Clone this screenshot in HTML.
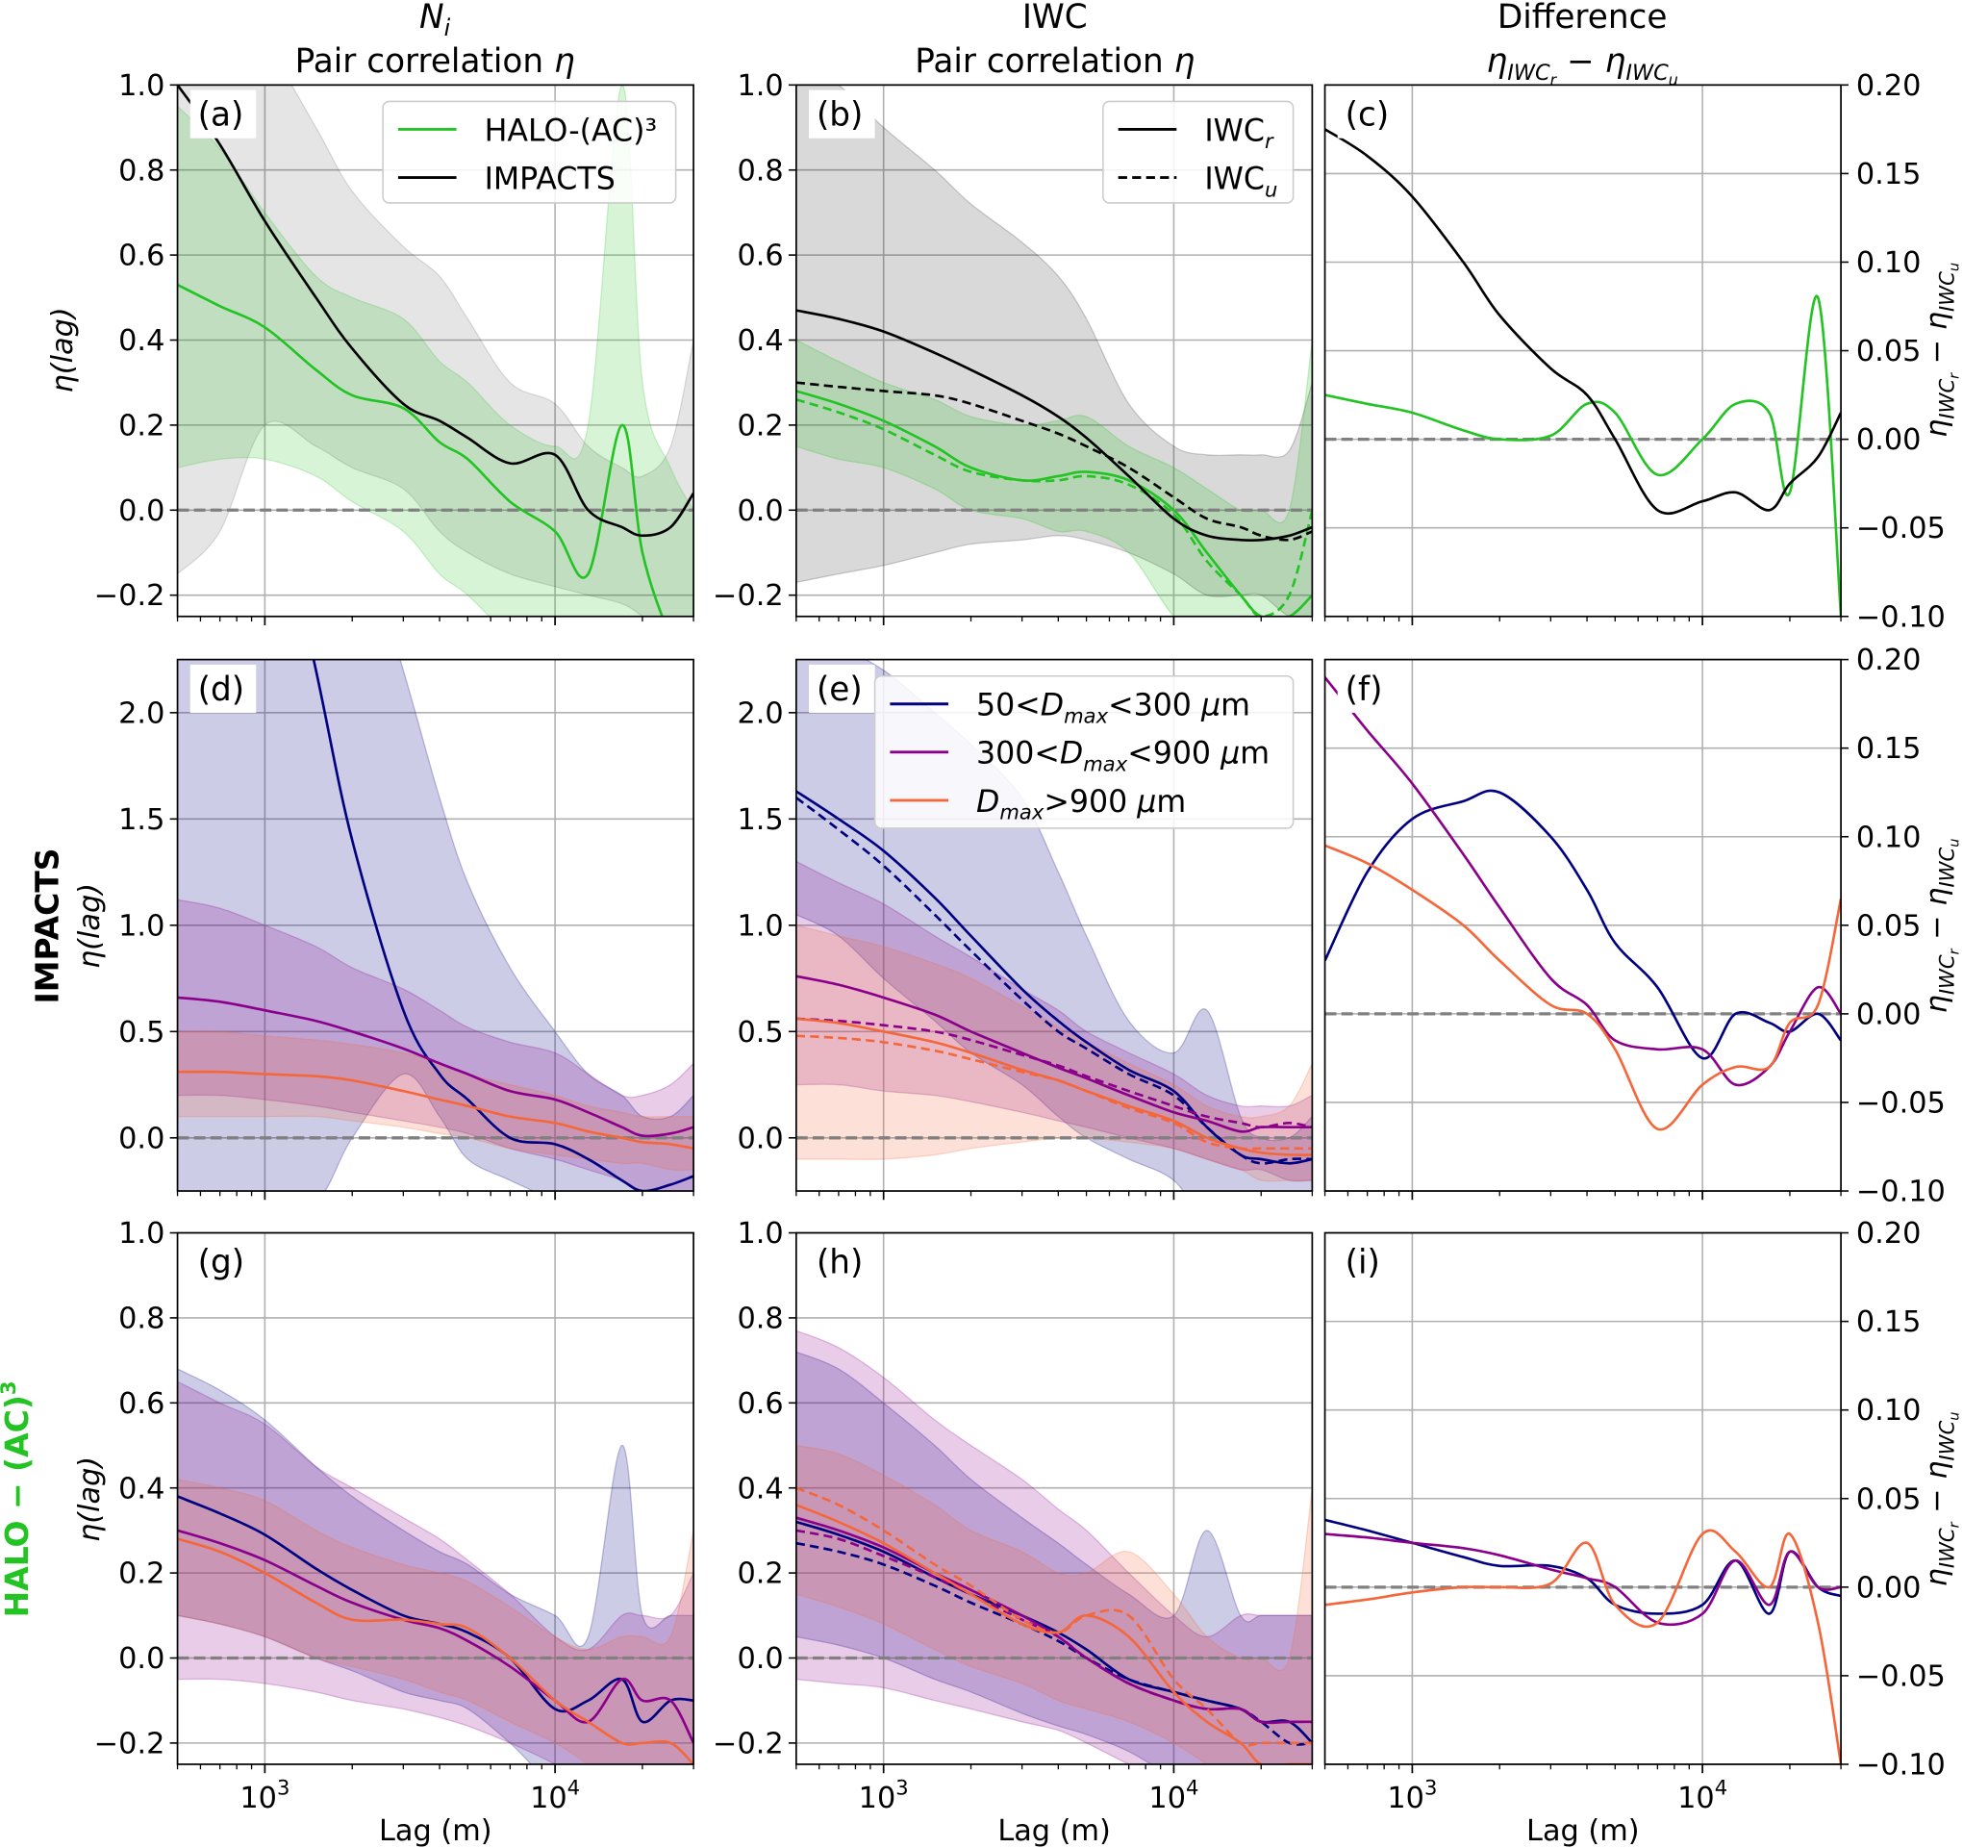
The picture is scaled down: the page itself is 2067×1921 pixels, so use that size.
<!DOCTYPE html>
<html><head><meta charset="utf-8"><style>
html,body{margin:0;padding:0;background:#fff;}
svg{display:block;font-family:"DejaVu Sans","Liberation Sans",sans-serif;}
</style></head><body>
<svg id="fig" width="2067" height="1921" viewBox="0 0 1568 1457" preserveAspectRatio="none" xmlns="http://www.w3.org/2000/svg">
<rect width="1568" height="1457" fill="#fff"/>
<g font-size="26" text-anchor="middle">
<text x="343" y="22" font-style="italic">N<tspan font-size="18" dy="6">i</tspan></text>
<text x="343" y="57">Pair correlation <tspan font-style="italic">η</tspan></text>
<text x="832" y="22">IWC</text>
<text x="832" y="57">Pair correlation <tspan font-style="italic">η</tspan></text>
<text x="1248" y="22">Difference</text>
<text x="1248" y="57" font-style="italic">η<tspan font-size="17" dy="6">IWC</tspan><tspan font-size="12" dy="4">r</tspan><tspan dy="-10"> − η</tspan><tspan font-size="17" dy="6">IWC</tspan><tspan font-size="12" dy="4">u</tspan></text>
</g>
<g id="plots"></g>
</svg>
<script>
const L = [500,700,1000,1500,2000,3000,4000,5000,7000,10000,13000,17000,20000,25000,30000];
// panel a
const aImpacts = [1.0,0.86,0.68,0.50,0.38,0.25,0.21,0.17,0.11,0.13,0.0,-0.04,-0.06,-0.04,0.04];
const aHalo = [0.53,0.48,0.43,0.33,0.27,0.24,0.16,0.12,0.02,-0.05,-0.15,0.2,-0.1,-0.3,-0.4];
const aImpUp = [1.3,1.2,1.1,0.9,0.75,0.62,0.55,0.45,0.3,0.25,0.15,0.1,0.08,0.15,0.4];
const aImpLo = [-0.15,-0.05,0.2,0.15,0.1,0.05,-0.05,-0.1,-0.15,-0.18,-0.2,-0.22,-0.25,-0.3,-0.3];
const aHaloUp = [0.95,0.85,0.7,0.55,0.5,0.45,0.35,0.3,0.2,0.15,0.2,1.0,0.3,0.1,0.0];
const aHaloLo = [0.1,0.12,0.12,0.08,0.02,-0.05,-0.15,-0.2,-0.3,-0.4,-0.4,-0.4,-0.4,-0.4,-0.4];
// panel b
const bImpR = [0.47,0.45,0.42,0.37,0.33,0.27,0.22,0.17,0.08,-0.02,-0.06,-0.07,-0.07,-0.06,-0.04];
const bImpU = [0.30,0.29,0.28,0.27,0.25,0.21,0.18,0.15,0.1,0.03,-0.02,-0.04,-0.06,-0.07,-0.05];
const bHaloR = [0.28,0.25,0.21,0.15,0.1,0.07,0.08,0.09,0.07,0.0,-0.1,-0.2,-0.25,-0.25,-0.2];
const bHaloU = [0.26,0.23,0.19,0.13,0.09,0.07,0.07,0.08,0.06,-0.01,-0.12,-0.2,-0.25,-0.2,0.0];
const bImpUp = [1.05,1.0,0.9,0.8,0.72,0.63,0.55,0.45,0.25,0.15,0.13,0.13,0.13,0.14,0.3];
const bImpLo = [-0.17,-0.15,-0.13,-0.1,-0.08,-0.07,-0.06,-0.07,-0.1,-0.15,-0.2,-0.2,-0.2,-0.25,-0.25];
const bHaloUp = [0.4,0.35,0.3,0.26,0.22,0.2,0.21,0.22,0.15,0.1,0.05,0.0,0.0,0.0,0.4];
const bHaloLo = [0.15,0.12,0.1,0.05,0.0,-0.02,-0.05,-0.05,-0.1,-0.25,-0.3,-0.3,-0.3,-0.3,-0.3];
// panel c
const cImp = [0.175,0.16,0.137,0.10,0.07,0.04,0.025,0.0,-0.04,-0.035,-0.03,-0.04,-0.025,-0.01,0.015];
const cHalo = [0.025,0.02,0.015,0.005,0.0,0.002,0.02,0.015,-0.02,0.0,0.02,0.015,-0.03,0.08,-0.1];
// panel d
const dSmall = [6,4.5,3.3,2.2,1.4,0.6,0.3,0.18,0.0,-0.03,-0.1,-0.2,-0.25,-0.22,-0.18];
const dMid = [0.66,0.64,0.6,0.55,0.5,0.42,0.35,0.3,0.22,0.18,0.12,0.05,0.01,0.02,0.05];
const dLarge = [0.31,0.31,0.3,0.29,0.27,0.22,0.18,0.15,0.1,0.07,0.03,0.0,-0.02,-0.03,-0.05];
const dSmallUp = [4,4,4,3.5,3,2.2,1.6,1.2,0.8,0.5,0.3,0.2,0.1,0.1,0.2];
const dSmallLo = [-1,-0.5,-0.3,-0.3,0.0,0.3,0.1,-0.1,-0.2,-0.3,-0.4,-0.4,-0.4,-0.4,-0.4];
const dMidUp = [1.12,1.08,1.0,0.9,0.8,0.7,0.6,0.52,0.45,0.4,0.3,0.2,0.2,0.25,0.35];
const dMidLo = [0.2,0.2,0.18,0.15,0.12,0.08,0.05,0.02,-0.05,-0.1,-0.15,-0.2,-0.25,-0.25,-0.25];
const dLargeUp = [0.5,0.5,0.48,0.46,0.44,0.4,0.35,0.3,0.25,0.2,0.15,0.12,0.1,0.1,0.1];
const dLargeLo = [0.1,0.1,0.1,0.1,0.08,0.05,0.02,0.0,-0.05,-0.08,-0.1,-0.12,-0.12,-0.15,-0.15];
// panel e
const eSmallR = [1.63,1.5,1.35,1.13,0.95,0.7,0.55,0.45,0.32,0.22,0.05,-0.08,-0.1,-0.12,-0.1];
const eSmallU = [1.6,1.45,1.28,1.05,0.88,0.65,0.5,0.42,0.3,0.2,0.05,-0.08,-0.12,-0.1,-0.1];
const eMidR = [0.76,0.72,0.66,0.58,0.5,0.4,0.33,0.28,0.2,0.12,0.08,0.03,0.05,0.05,0.05];
const eMidU = [0.56,0.55,0.53,0.5,0.46,0.39,0.34,0.29,0.22,0.15,0.1,0.07,0.05,0.07,0.05];
const eLargeR = [0.56,0.54,0.5,0.45,0.4,0.32,0.27,0.22,0.15,0.08,0.0,-0.05,-0.07,-0.08,-0.08];
const eLargeU = [0.48,0.47,0.45,0.41,0.37,0.31,0.27,0.22,0.14,0.07,-0.02,-0.05,-0.05,-0.05,-0.05];
const eSmallUp = [2.3,2.3,2.2,2.0,1.85,1.6,1.25,0.95,0.55,0.4,0.6,0.1,0.0,0.0,0.1];
const eSmallLo = [1.05,0.95,0.75,0.55,0.4,0.25,0.1,0.0,-0.1,-0.2,-0.4,-0.4,-0.4,-0.4,-0.4];
const eMidUp = [1.3,1.2,1.1,0.95,0.85,0.7,0.6,0.5,0.4,0.3,0.2,0.15,0.15,0.15,0.2];
const eMidLo = [0.25,0.25,0.22,0.2,0.17,0.12,0.08,0.05,0.0,-0.05,-0.1,-0.15,-0.15,-0.2,-0.2];
const eLargeUp = [1.0,0.95,0.9,0.82,0.75,0.62,0.52,0.45,0.35,0.25,0.15,0.1,0.1,0.15,0.35];
const eLargeLo = [-0.1,-0.1,-0.1,-0.08,-0.05,-0.02,0.0,0.0,-0.02,-0.05,-0.1,-0.15,-0.2,-0.2,-0.2];
// panel f
const fSmall = [0.03,0.08,0.11,0.12,0.125,0.10,0.07,0.04,0.015,-0.025,0.0,-0.005,-0.01,0.0,-0.015];
const fMid = [0.19,0.16,0.13,0.09,0.06,0.02,0.005,-0.015,-0.02,-0.02,-0.04,-0.03,-0.01,0.015,0.0];
const fLarge = [0.095,0.085,0.07,0.05,0.03,0.005,0.0,-0.02,-0.065,-0.04,-0.03,-0.03,-0.005,0.005,0.065];
// panel g
const gSmall = [0.38,0.34,0.29,0.21,0.16,0.1,0.08,0.06,0.0,-0.12,-0.1,-0.05,-0.15,-0.1,-0.1];
const gMid = [0.30,0.27,0.23,0.17,0.13,0.09,0.07,0.04,-0.02,-0.1,-0.15,-0.05,-0.1,-0.1,-0.2];
const gLarge = [0.28,0.25,0.2,0.13,0.09,0.09,0.08,0.07,0.0,-0.1,-0.15,-0.2,-0.2,-0.2,-0.25];
const gSmallUp = [0.68,0.63,0.56,0.45,0.38,0.3,0.25,0.22,0.15,0.1,0.05,0.5,0.1,0.1,0.1];
const gSmallLo = [0.1,0.08,0.05,0.0,-0.03,-0.08,-0.1,-0.12,-0.2,-0.3,-0.3,-0.3,-0.3,-0.3,-0.3];
const gMidUp = [0.65,0.6,0.55,0.45,0.4,0.33,0.28,0.23,0.15,0.05,0.02,0.1,0.1,0.1,0.2];
const gMidLo = [-0.05,-0.05,-0.06,-0.08,-0.1,-0.12,-0.14,-0.16,-0.2,-0.25,-0.3,-0.3,-0.3,-0.3,-0.3];
const gLargeUp = [0.42,0.4,0.37,0.3,0.26,0.22,0.2,0.18,0.12,0.05,0.02,0.05,0.05,0.05,0.3];
const gLargeLo = [0.1,0.08,0.05,0.0,-0.02,-0.05,-0.08,-0.1,-0.15,-0.2,-0.25,-0.3,-0.3,-0.3,-0.3];
// panel h
const hSmallR = [0.32,0.29,0.25,0.19,0.15,0.1,0.06,0.02,-0.05,-0.08,-0.1,-0.12,-0.15,-0.15,-0.2];
const hSmallU = [0.27,0.25,0.22,0.17,0.13,0.08,0.04,0.0,-0.05,-0.08,-0.1,-0.12,-0.15,-0.2,-0.2];
const hMidR = [0.33,0.3,0.26,0.2,0.16,0.1,0.05,0.0,-0.06,-0.1,-0.12,-0.12,-0.15,-0.15,-0.15];
const hMidU = [0.3,0.28,0.24,0.19,0.15,0.09,0.05,0.0,-0.06,-0.1,-0.12,-0.12,-0.15,-0.15,-0.15];
const hLargeR = [0.36,0.32,0.27,0.2,0.15,0.08,0.06,0.1,0.05,-0.08,-0.15,-0.2,-0.25,-0.25,-0.25];
const hLargeU = [0.4,0.36,0.3,0.22,0.17,0.09,0.06,0.1,0.1,-0.05,-0.12,-0.2,-0.2,-0.2,-0.2];
const hSmallUp = [0.72,0.68,0.6,0.5,0.42,0.33,0.27,0.22,0.15,0.1,0.3,0.1,0.1,0.1,0.1];
const hSmallLo = [0.05,0.03,0.0,-0.05,-0.08,-0.13,-0.16,-0.18,-0.22,-0.28,-0.3,-0.3,-0.3,-0.3,-0.3];
const hMidUp = [0.77,0.73,0.66,0.56,0.5,0.42,0.35,0.3,0.2,0.1,0.05,0.1,0.1,0.1,0.1];
const hMidLo = [-0.05,-0.06,-0.07,-0.1,-0.12,-0.15,-0.17,-0.2,-0.25,-0.3,-0.3,-0.3,-0.3,-0.3,-0.3];
const hLargeUp = [0.5,0.48,0.43,0.36,0.3,0.25,0.2,0.2,0.25,0.15,0.05,0.0,0.0,0.0,0.4];
const hLargeLo = [0.15,0.12,0.08,0.02,-0.02,-0.06,-0.1,-0.12,-0.15,-0.2,-0.25,-0.3,-0.3,-0.3,-0.3];
// panel i
const iSmall = [0.038,0.032,0.025,0.017,0.012,0.012,0.005,-0.01,-0.015,-0.01,0.015,-0.015,0.02,0.0,-0.005];
const iMid = [0.03,0.028,0.025,0.022,0.018,0.01,0.005,0.0,-0.02,-0.015,0.015,-0.01,0.02,0.0,0.0];
const iLarge = [-0.01,-0.007,-0.003,0.0,0.0,0.002,0.025,-0.01,-0.02,0.03,0.02,0.0,0.03,-0.02,-0.1];
const ticksEta = [-0.2,0,0.2,0.4,0.6,0.8,1.0];
const ticksEtaBig = [0,0.5,1.0,1.5,2.0];
const ticksDiff = [-0.1,-0.05,0,0.05,0.1,0.15,0.2];

const GREEN='#22c322', NAVY='#000080', PURP='#8b008b', ORNG='#f4673a', BLK='#000';
const NS='http://www.w3.org/2000/svg';
const COLX=[140,628,1045], ROWY=[67,520,972], W=407, H=419;
const XMIN=500, XMAX=30000;
function mk(tag, attrs, parent){const e=document.createElementNS(NS,tag);for(const k in attrs)e.setAttribute(k,attrs[k]);if(parent)parent.appendChild(e);return e;}
function smooth(pts){
  let d='M'+pts[0][0].toFixed(1)+','+pts[0][1].toFixed(1);
  for(let i=0;i<pts.length-1;i++){
    const p0=pts[Math.max(0,i-1)],p1=pts[i],p2=pts[i+1],p3=pts[Math.min(pts.length-1,i+2)];
    const c1=[p1[0]+(p2[0]-p0[0])/6,p1[1]+(p2[1]-p0[1])/6];
    const c2=[p2[0]-(p3[0]-p1[0])/6,p2[1]-(p3[1]-p1[1])/6];
    d+='C'+c1[0].toFixed(1)+','+c1[1].toFixed(1)+' '+c2[0].toFixed(1)+','+c2[1].toFixed(1)+' '+p2[0].toFixed(1)+','+p2[1].toFixed(1);
  }
  return d;
}
function fmt(v,dec){const s=Math.abs(v).toFixed(dec);return (v<-1e-9?'−':'')+s;}

const panels=[
 {id:'a',c:0,r:0,y:[-0.25,1],t:ticksEta,dec:1,
  bands:[[aImpUp,aImpLo,'#000',0.1],[aHaloUp,aHaloLo,GREEN,0.18]],
  lines:[[aHalo,GREEN,0,'halo-line'],[aImpacts,BLK,0,'impacts-line']]},
 {id:'b',c:1,r:0,y:[-0.25,1],t:ticksEta,dec:1,
  bands:[[bImpUp,bImpLo,'#000',0.15],[bHaloUp,bHaloLo,GREEN,0.2]],
  lines:[[bHaloR,GREEN,0,'halo-iwcr-line'],[bHaloU,GREEN,1,'halo-iwcu-line'],[bImpR,BLK,0,'impacts-iwcr-line'],[bImpU,BLK,1,'impacts-iwcu-line']]},
 {id:'c',c:2,r:0,y:[-0.1,0.2],t:ticksDiff,dec:2,bands:[],
  lines:[[cHalo,GREEN,0,'halo-diff-line'],[cImp,BLK,0,'impacts-diff-line']]},
 {id:'d',c:0,r:1,y:[-0.25,2.25],t:ticksEtaBig,dec:1,
  bands:[[dSmallUp,dSmallLo,NAVY,0.2],[dMidUp,dMidLo,PURP,0.2],[dLargeUp,dLargeLo,ORNG,0.2]],
  lines:[[dSmall,NAVY,0,'small-line'],[dMid,PURP,0,'mid-line'],[dLarge,ORNG,0,'large-line']]},
 {id:'e',c:1,r:1,y:[-0.25,2.25],t:ticksEtaBig,dec:1,
  bands:[[eSmallUp,eSmallLo,NAVY,0.2],[eMidUp,eMidLo,PURP,0.2],[eLargeUp,eLargeLo,ORNG,0.2]],
  lines:[[eSmallR,NAVY,0,'small-r-line'],[eSmallU,NAVY,1,'small-u-line'],[eMidR,PURP,0,'mid-r-line'],[eMidU,PURP,1,'mid-u-line'],[eLargeR,ORNG,0,'large-r-line'],[eLargeU,ORNG,1,'large-u-line']]},
 {id:'f',c:2,r:1,y:[-0.1,0.2],t:ticksDiff,dec:2,bands:[],
  lines:[[fSmall,NAVY,0,'small-diff-line'],[fMid,PURP,0,'mid-diff-line'],[fLarge,ORNG,0,'large-diff-line']]},
 {id:'g',c:0,r:2,y:[-0.25,1],t:ticksEta,dec:1,
  bands:[[gSmallUp,gSmallLo,NAVY,0.2],[gMidUp,gMidLo,PURP,0.2],[gLargeUp,gLargeLo,ORNG,0.2]],
  lines:[[gSmall,NAVY,0,'small-line'],[gMid,PURP,0,'mid-line'],[gLarge,ORNG,0,'large-line']]},
 {id:'h',c:1,r:2,y:[-0.25,1],t:ticksEta,dec:1,
  bands:[[hSmallUp,hSmallLo,NAVY,0.2],[hMidUp,hMidLo,PURP,0.2],[hLargeUp,hLargeLo,ORNG,0.2]],
  lines:[[hSmallR,NAVY,0,'small-r-line'],[hSmallU,NAVY,1,'small-u-line'],[hMidR,PURP,0,'mid-r-line'],[hMidU,PURP,1,'mid-u-line'],[hLargeR,ORNG,0,'large-r-line'],[hLargeU,ORNG,1,'large-u-line']]},
 {id:'i',c:2,r:2,y:[-0.1,0.2],t:ticksDiff,dec:2,bands:[],
  lines:[[iSmall,NAVY,0,'small-diff-line'],[iMid,PURP,0,'mid-diff-line'],[iLarge,ORNG,0,'large-diff-line']]}
];

const root=document.getElementById('plots');
const defs=mk('defs',{},root);
panels.forEach(p=>{
  const x0=COLX[p.c], y0=ROWY[p.r];
  const xs=v=>x0+(Math.log10(v)-Math.log10(XMIN))/(Math.log10(XMAX)-Math.log10(XMIN))*W;
  const ys=v=>y0+(p.y[1]-v)/(p.y[1]-p.y[0])*H;
  const cp=mk('clipPath',{id:'clip-'+p.id},defs);
  mk('rect',{x:x0,y:y0,width:W,height:H},cp);
  const g=mk('g',{},root);
  
  
  // grid
  const grid=mk('g',{stroke:'#b0b0b0','stroke-width':1.2},g);
  
  
  p.t.forEach(v=>{mk('line',{x1:x0,x2:x0+W,y1:ys(v),y2:ys(v)},grid);});
  [1000,10000].forEach(v=>{mk('line',{x1:xs(v),x2:xs(v),y1:y0,y2:y0+H},grid);});
  const plot=mk('g',{'clip-path':'url(#clip-'+p.id+')'},g);
  
  
  p.bands.forEach(b=>{
    const up=L.map((l,i)=>[xs(l),ys(b[0][i])]);
    const lo=L.map((l,i)=>[xs(l),ys(b[1][i])]).reverse();
    const d=smooth(up)+smooth(lo).replace('M','L')+'Z';
    const e=mk('path',{d:d,fill:b[2],'fill-opacity':b[3],stroke:b[2],'stroke-opacity':b[3]*1.2,'stroke-width':1},plot);
    
    
  });
  const z=mk('line',{x1:x0,x2:x0+W,y1:ys(0),y2:ys(0),stroke:'#808080','stroke-width':2.5,'stroke-dasharray':'9,4'},plot);
  
  
  p.lines.forEach(s=>{
    const pts=L.map((l,i)=>[xs(l),ys(s[0][i])]);
    const e=mk('path',{d:smooth(pts),fill:'none',stroke:s[1],'stroke-width':2},plot);
    if(s[2])e.setAttribute('stroke-dasharray','7,4');
    
    
  });
  mk('rect',{x:x0,y:y0,width:W,height:H,fill:'none',stroke:'#000','stroke-width':1.3},g);
  // y ticks
  const right=p.c===2;
  const ax=mk('g',{'font-size':23},g);
  
  
  p.t.forEach(v=>{
    const y=ys(v);
    if(right){mk('line',{x1:x0+W,x2:x0+W+6,y1:y,y2:y,stroke:'#000','stroke-width':1.2},ax);
      const t=mk('text',{x:x0+W+12,y:y+8,'text-anchor':'start'},ax);t.textContent=fmt(v,p.dec);}
    else{mk('line',{x1:x0-6,x2:x0,y1:y,y2:y,stroke:'#000','stroke-width':1.2},ax);
      const t=mk('text',{x:x0-10,y:y+8,'text-anchor':'end'},ax);t.textContent=fmt(v,p.dec);}
  });
  // x ticks
  const xa=mk('g',{},g);
  
  
  for(let dcd=100;dcd<=10000;dcd*=10){for(let m=1;m<10;m++){const v=dcd*m;if(v<XMIN||v>XMAX)continue;
    const maj=(m===1);mk('line',{x1:xs(v),x2:xs(v),y1:y0+H,y2:y0+H+(maj?7:4),stroke:'#000','stroke-width':maj?1.3:1},xa);}}
  if(p.r===2){
    [1000,10000].forEach((v,k)=>{const t=mk('text',{x:xs(v),y:y0+H+34,'text-anchor':'middle','font-size':23},xa);
      t.innerHTML='10<tspan font-size="16" dy="-10">'+(k+3)+'</tspan>';});
    const lb=mk('text',{x:x0+W/2,y:y0+H+60,'text-anchor':'middle','font-size':23},xa);lb.textContent='Lag (m)';
    
  }
  // panel label
  const pl=mk('g',{},g);
  
  
  mk('rect',{x:x0+10,y:y0+4,width:52,height:38,fill:'#fff'},pl);
  const lt=mk('text',{x:x0+16,y:y0+32,'font-size':26},pl);lt.textContent='('+p.id+')';
});

// Axis titles (static)
const at=mk('g',{'font-size':23},document.getElementById('fig'));


function rot(x,y,html,extra){const t=mk('text',Object.assign({x:0,y:0,'text-anchor':'middle',transform:'translate('+x+','+y+') rotate(-90)'},extra||{}),at);t.innerHTML=html;return t;}
const eta='<tspan font-style="italic">η(lag)</tspan>';
rot(57,276,eta);
rot(78,730,eta);
rot(46,730,'IMPACTS',{'font-weight':'bold','font-size':25});
rot(78,1182,eta);
rot(22,1182,'HALO − (AC)<tspan font-size="16" dy="-10">3</tspan>',{'font-weight':'bold','font-size':25,fill:GREEN});
const dl='<tspan font-style="italic">η<tspan font-size="16" dy="6">IWC</tspan><tspan font-size="11" dy="4">r</tspan><tspan dy="-10"> − η</tspan><tspan font-size="16" dy="6">IWC</tspan><tspan font-size="11" dy="4">u</tspan></tspan>';
[276,730,1182].forEach(y=>rot(1535,y,dl));

// Legends
const fig=document.getElementById('fig');
function legend(x,y,w,h,items,name){
  const g=mk('g',{},fig);
  
  
  mk('rect',{x:x,y:y,width:w,height:h,rx:5,fill:'#fff','fill-opacity':0.85,stroke:'#ccc','stroke-width':1.2},g);
  items.forEach((it,i)=>{
    const yy=y+22+i*38;
    const ln=mk('line',{x1:x+12,x2:x+58,y1:yy,y2:yy,stroke:it[1],'stroke-width':2.2},g);
    if(it[2])ln.setAttribute('stroke-dasharray','7,4');
    const t=mk('text',{x:x+80,y:yy+9,'font-size':24},g);t.innerHTML=it[0];
  });
}
legend(302,80,231,80,[['HALO-(AC)³',GREEN,0],['IMPACTS',BLK,0]],'legend-a');
legend(870,80,150,80,[['IWC<tspan font-style="italic" font-size="16" dy="6">r</tspan>',BLK,0],['IWC<tspan font-style="italic" font-size="16" dy="6">u</tspan>',BLK,1]],'legend-b');
legend(690,533,330,120,[['50&lt;<tspan font-style="italic">D<tspan font-size="16" dy="6">max</tspan></tspan><tspan dy="-6">&lt;300 </tspan><tspan font-style="italic">μ</tspan>m',NAVY,0],['300&lt;<tspan font-style="italic">D<tspan font-size="16" dy="6">max</tspan></tspan><tspan dy="-6">&lt;900 </tspan><tspan font-style="italic">μ</tspan>m',PURP,0],['<tspan font-style="italic">D<tspan font-size="16" dy="6">max</tspan></tspan><tspan dy="-6">&gt;900 </tspan><tspan font-style="italic">μ</tspan>m',ORNG,0]],'legend-e');
</script>
</body></html>
